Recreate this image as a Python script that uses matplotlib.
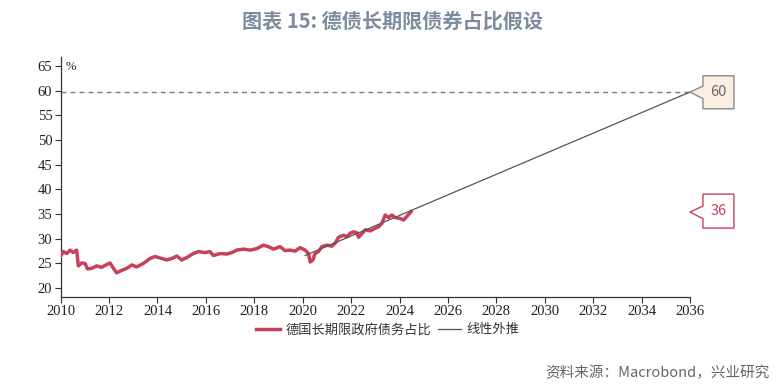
import matplotlib
matplotlib.use("Agg")
import matplotlib.pyplot as plt
from matplotlib.patches import Polygon
from matplotlib.transforms import ScaledTranslation

plt.rcParams['font.family'] = ['Noto Sans CJK SC', 'DejaVu Sans']

title = "图表 15: 德债长期限债券占比假设"
series_name = "德国长期限政府债务占比"
trend_name = "线性外推"
source = "资料来源：Macrobond，兴业研究"

years = [2010.00, 2010.11, 2010.25, 2010.39, 2010.52, 2010.66, 2010.73, 2010.87,
         2011.01, 2011.10, 2011.28, 2011.49, 2011.69, 2011.87, 2012.04, 2012.18,
         2012.31, 2012.52, 2012.73, 2012.94, 2013.14, 2013.42, 2013.69, 2013.90,
         2014.18, 2014.38, 2014.59, 2014.80, 2015.00, 2015.21, 2015.48, 2015.69,
         2015.97, 2016.17, 2016.31, 2016.59, 2016.86, 2017.07, 2017.28, 2017.55,
         2017.83, 2018.10, 2018.38, 2018.58, 2018.79, 2019.07, 2019.27, 2019.48,
         2019.69, 2019.89, 2020.10, 2020.24, 2020.31, 2020.42, 2020.51, 2020.65,
         2020.79, 2021.00, 2021.20, 2021.34, 2021.48, 2021.69, 2021.82, 2021.96,
         2022.10, 2022.24, 2022.31, 2022.44, 2022.58, 2022.79, 2022.99, 2023.13,
         2023.27, 2023.41, 2023.55, 2023.68, 2023.82, 2024.03, 2024.17, 2024.30,
         2024.48]
share = [26.5, 27.4, 27.0, 27.7, 27.2, 27.7, 24.5, 25.1,
         25.0, 23.9, 24.0, 24.5, 24.2, 24.7, 25.1, 24.0,
         23.1, 23.6, 24.0, 24.7, 24.3, 25.0, 26.0, 26.4,
         26.0, 25.7, 26.0, 26.5, 25.7, 26.2, 27.0, 27.4,
         27.2, 27.4, 26.6, 27.0, 26.9, 27.2, 27.7, 27.9,
         27.7, 28.0, 28.7, 28.4, 27.9, 28.4, 27.6, 27.7,
         27.5, 28.2, 27.7, 27.0, 25.3, 25.7, 27.0, 27.4,
         28.4, 28.7, 28.5, 29.1, 30.3, 30.7, 30.4, 31.1,
         31.4, 31.2, 30.3, 31.0, 31.8, 31.6, 32.1, 32.4,
         33.1, 34.8, 34.3, 34.8, 34.3, 34.1, 33.8, 34.5,
         35.5]

trend_x = [2020.1, 2036.0]
trend_y = [26.6, 59.7]
target = 59.7
label_target = "60"
label_last = "36"

xticks = list(range(2010, 2037, 2))
yticks = list(range(20, 66, 5))

red = "#c8405a"
grey_line = "#555555"

fig = plt.figure(figsize=(7.84, 3.88), dpi=100)
ax = fig.add_axes([0.0774, 0.2345, 0.8026, 0.6185])

ax.plot(years, share, color=red, lw=2.5, label=series_name, zorder=3)
ax.plot(trend_x, trend_y, color=grey_line, lw=0.9, label=trend_name, zorder=4)
ax.axhline(target, color="#7a7a7a", lw=1.0, ls=(0, (3.5, 3)), zorder=2)

ax.set_xlim(2010, 2036)
ax.set_ylim(18.2, 66.8)
ax.set_xticks(xticks)
ax.set_yticks(yticks)
ax.tick_params(axis='both', direction='out', length=4, width=0.8, color="#333333",
               labelsize=10.5, labelcolor="#222222", pad=2)
for lab in ax.get_xticklabels() + ax.get_yticklabels():
    lab.set_fontfamily(['Liberation Serif', 'DejaVu Serif'])
for s in ['top', 'right']:
    ax.spines[s].set_visible(False)
for s in ['left', 'bottom']:
    ax.spines[s].set_color("#333333")
    ax.spines[s].set_linewidth(0.9)

ax.text(0.008, 0.985, "%", transform=ax.transAxes, fontsize=9, color="#222222",
        va='top', ha='left', family=['Liberation Serif', 'DejaVu Serif'])

leg = ax.legend(loc='upper center', bbox_to_anchor=(0.52, -0.06), ncol=2, frameon=False,
                fontsize=9.5, handlelength=1.8, handletextpad=0.4, columnspacing=0.5)
for t in leg.get_texts():
    t.set_color("#333333")

def callout(xv, yv, text, face, edge, tcolor, top, bottom):
    trans = fig.dpi_scale_trans + ScaledTranslation(xv, yv, ax.transData)
    s = 0.01
    verts = [(0, 0), (13 * s, 6 * s), (13 * s, top * s), (44 * s, top * s),
             (44 * s, bottom * s), (13 * s, bottom * s), (13 * s, -6.5 * s)]
    poly = Polygon(verts, closed=True, facecolor=face, edgecolor=edge, lw=1.0,
                   transform=trans, clip_on=False, zorder=6)
    fig.add_artist(poly)
    fig.text(28.5 * s, (top + bottom) / 2 * s, text, transform=trans, ha='center',
             va='center', fontsize=10.5, color=tcolor, zorder=7)

callout(trend_x[-1], target, label_target, "#fbeee2", "#8a8a8a", "#6a6a6a", 16.3, -16.7)
callout(trend_x[-1], share[-1] - 0.1, label_last, "#ffffff", red, red, 18, -16)

fig.text(0.5, 0.947, title, ha='center', va='center', fontsize=14.5, fontweight='bold',
         color="#7d8ba0")
fig.text(0.982, 0.04, source, ha='right', va='center', fontsize=10.5, color="#666666")

fig.savefig("out.png", dpi=100)
